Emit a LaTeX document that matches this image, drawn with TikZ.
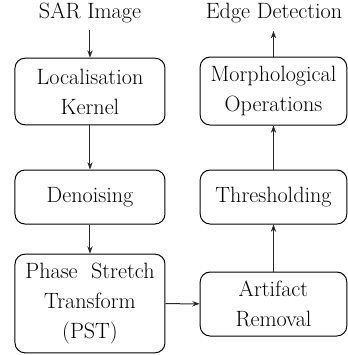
\documentclass[tikz,border=0pt]{standalone}
\usetikzlibrary{arrows.meta}

\tikzset{every picture/.style={line width=0.75pt}}
\tikzset{stagebox/.style={draw, rounded corners=7.5pt, align=center, inner sep=0.75pt, font=\fontsize{16.6}{22.5}\selectfont},
  flowarrow/.style={-{Stealth[length=5.5pt,width=4pt]}, color={rgb, 255:red, 40; green, 40; blue, 40 }}}

\begin{document}
\begin{tikzpicture}[x=0.75pt,y=0.75pt,yscale=-1,xscale=1]
\useasboundingbox (0,0) rectangle (348,355);

% Text Node
\node (sar) at (90,13) [inner sep=0.75pt, font=\fontsize{16.6}{19}\selectfont] {SAR Image};
% Text Node
\node (edge) at (274,13) [inner sep=0.75pt, font=\fontsize{16.6}{19}\selectfont] {Edge Detection};
%Rounded Rect
\node (loc) at (90,91.5) [stagebox, minimum width=112.5pt, minimum height=50pt] {Localisation\\Kernel};
%Rounded Rect
\node (denoise) at (90,197) [stagebox, minimum width=112.5pt, minimum height=40.5pt] {Denoising};
%Rounded Rect
\node (pst) at (90,303.5) [stagebox, minimum width=112.5pt, minimum height=74pt] {Phase\ \ Stretch\\Transform\\(PST)};
%Rounded Rect
\node (morph) at (273.5,91) [stagebox, minimum width=110pt, minimum height=51pt] {Morphological\\Operations};
%Rounded Rect
\node (thresh) at (273.5,197) [stagebox, minimum width=110pt, minimum height=40.5pt] {Thresholding};
%Rounded Rect
\node (artifact) at (273.5,304) [stagebox, minimum width=110pt, minimum height=48pt] {Artifact\\Removal};

% Connection
\coordinate (sarout) at (90,30);
\draw [flowarrow] (sarout) -- (loc);
% Connection
\draw [flowarrow] (loc) -- (denoise);
% Connection
\draw [flowarrow] (denoise) -- (pst);
% Connection
\draw [flowarrow] (pst) -- (artifact);
% Connection
\draw [flowarrow] (artifact) -- (thresh);
% Connection
\draw [flowarrow] (thresh) -- (morph);
% Connection
\coordinate (edgein) at (273.5,31);
\draw [flowarrow] (morph) -- (edgein);

\end{tikzpicture}
\end{document}
